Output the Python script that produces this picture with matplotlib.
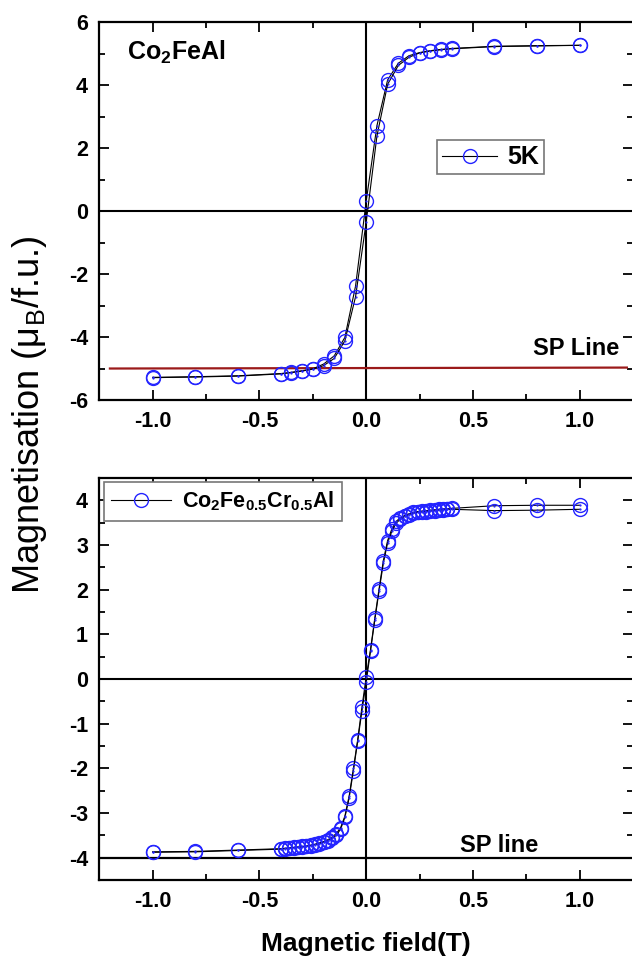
import matplotlib.pyplot as plt

plt.rcParams['font.family'] = ['Liberation Sans', 'DejaVu Sans']
plt.rcParams['mathtext.fontset'] = 'custom'
plt.rcParams['mathtext.rm'] = 'Liberation Sans'
plt.rcParams['mathtext.it'] = 'Liberation Sans:italic'
plt.rcParams['mathtext.bf'] = 'Liberation Sans:bold'
plt.rcParams['axes.unicode_minus'] = False

# Co2FeAl, 5K loop (two branches)
field_a = [-1.0, -0.8, -0.6, -0.4, -0.35, -0.3, -0.25, -0.2, -0.15, -0.1, -0.05, 0.0,
           0.05, 0.1, 0.15, 0.2, 0.25, 0.3, 0.35, 0.4, 0.6, 0.8, 1.0]
mag_a_down = [-5.28, -5.26, -5.23, -5.16, -5.12, -5.07, -5.01, -4.86, -4.60, -4.01, -2.38, 0.32,
              2.71, 4.16, 4.69, 4.93, 5.03, 5.09, 5.13, 5.16, 5.23, 5.25, 5.26]
mag_a_up = [-5.29, -5.27, -5.24, -5.17, -5.13, -5.08, -5.02, -4.91, -4.68, -4.12, -2.72, -0.34,
            2.38, 4.02, 4.62, 4.88, 5.02, 5.08, 5.12, 5.15, 5.22, 5.24, 5.26]

# Co2Fe0.5Cr0.5Al loop (two branches)
field_b = [-1.0, -0.8, -0.6, -0.4, -0.38, -0.36, -0.34, -0.32, -0.3, -0.28, -0.26, -0.24,
           -0.22, -0.2, -0.18, -0.16, -0.14, -0.12, -0.1, -0.08, -0.06, -0.04, -0.02, 0.0,
           0.02, 0.04, 0.06, 0.08, 0.1, 0.12, 0.14, 0.16, 0.18, 0.2, 0.22, 0.24, 0.26, 0.28,
           0.3, 0.32, 0.34, 0.36, 0.38, 0.4, 0.6, 0.8, 1.0]
mag_b_down = [-3.87, -3.86, -3.83, -3.80, -3.79, -3.78, -3.77, -3.76, -3.75, -3.74, -3.72, -3.70,
              -3.67, -3.64, -3.60, -3.54, -3.46, -3.33, -3.07, -2.62, -2.00, -1.36, -0.62, 0.05,
              0.66, 1.36, 2.02, 2.65, 3.10, 3.36, 3.53, 3.61, 3.66, 3.70, 3.73, 3.75, 3.76, 3.77,
              3.78, 3.79, 3.80, 3.81, 3.81, 3.82, 3.88, 3.89, 3.89]
mag_b_up = [-3.88, -3.87, -3.84, -3.81, -3.80, -3.79, -3.78, -3.77, -3.76, -3.75, -3.73, -3.71,
            -3.69, -3.66, -3.62, -3.57, -3.50, -3.36, -3.10, -2.66, -2.05, -1.39, -0.71, -0.06,
            0.63, 1.32, 1.97, 2.59, 3.05, 3.31, 3.49, 3.58, 3.64, 3.68, 3.71, 3.73, 3.74, 3.75,
            3.76, 3.77, 3.78, 3.79, 3.80, 3.80, 3.77, 3.78, 3.80]

blue = '#2424ff'

fig = plt.figure(figsize=(6.32, 9.57), dpi=100)
ax1 = fig.add_axes([0.157, 0.582, 0.845, 0.395])
ax2 = fig.add_axes([0.157, 0.0805, 0.845, 0.420])


def draw_loop(ax, x, y1, y2, label):
    for yy, lab in ((y1, label), (y2, None)):
        ax.plot(x, yy, '-', color='black', lw=0.8, marker='o', ms=10,
                mfc='none', mec=blue, mew=1.0, label=lab, zorder=3)
        ax.plot(x, yy, '.', color=blue, ms=1.2, zorder=4)


def style(ax, ylim, major, minor):
    ax.set_xlim(-1.25, 1.25)
    ax.set_ylim(*ylim)
    ax.set_xticks([-1.0, -0.5, 0.0, 0.5, 1.0])
    ax.set_xticks([-0.75, -0.25, 0.25, 0.75], minor=True)
    ax.set_yticks(major)
    ax.set_yticks(minor, minor=True)
    ax.tick_params(which='both', direction='in', top=True, right=True, width=1.3)
    ax.tick_params(which='major', length=7, labelsize=15.5, pad=8)
    ax.tick_params(which='minor', length=4)
    for lab in ax.get_xticklabels() + ax.get_yticklabels():
        lab.set_fontweight('bold')
    for sp in ax.spines.values():
        sp.set_linewidth(1.6)
    ax.axhline(0, color='black', lw=1.5, zorder=2)
    ax.axvline(0, color='black', lw=1.5, zorder=2)


# top panel
draw_loop(ax1, field_a, mag_a_down, mag_a_up, '5K')
style(ax1, (-6, 6), [-6, -4, -2, 0, 2, 4, 6], [-5, -3, -1, 1, 3, 5])
ax1.plot([-1.2, 1.22], [-5.0, -4.97], color='#9b1a1a', lw=1.6, zorder=2)
ax1.text(0.78, -4.38, 'SP Line', fontsize=17, fontweight='bold', va='center', clip_on=False)
ax1.text(-1.12, 5.05, r'Co$_\mathbf{2}$FeAl', fontsize=18, fontweight='bold', va='center')
leg1 = ax1.legend(loc='upper left', bbox_to_anchor=(0.61, 0.72),
                  prop={'weight': 'bold', 'size': 18}, fancybox=False, edgecolor='#777777',
                  framealpha=1, handlelength=2.2, borderpad=0.2, handletextpad=0.4)
leg1.get_frame().set_linewidth(1.2)

# bottom panel
draw_loop(ax2, field_b, mag_b_down, mag_b_up, r'Co$_\mathbf{2}$Fe$_\mathbf{0.5}$Cr$_\mathbf{0.5}$Al')
style(ax2, (-4.5, 4.5), [-4, -3, -2, -1, 0, 1, 2, 3, 4],
      [-4.5, -3.5, -2.5, -1.5, -0.5, 0.5, 1.5, 2.5, 3.5, 4.5])
ax2.axhline(-4, color='black', lw=1.6, zorder=2)
ax2.text(0.44, -3.72, 'SP line', fontsize=17, fontweight='bold', va='center')
leg2 = ax2.legend(loc='upper left', bbox_to_anchor=(0.0, 1.0), borderaxespad=0.2,
                  prop={'weight': 'bold', 'size': 15.5}, fancybox=False, edgecolor='#777777',
                  framealpha=1, handlelength=2.8, borderpad=0.35, handletextpad=0.5)
leg2.get_frame().set_linewidth(1.2)

ax2.set_xlabel('Magnetic field(T)', fontsize=19, fontweight='bold', labelpad=14)
fig.text(0.047, 0.566, r'Magnetisation ($\mathregular{\mu_B}$/f.u.)', rotation=90,
         fontsize=26, va='center', ha='center')

fig.savefig('out.png', dpi=100)
